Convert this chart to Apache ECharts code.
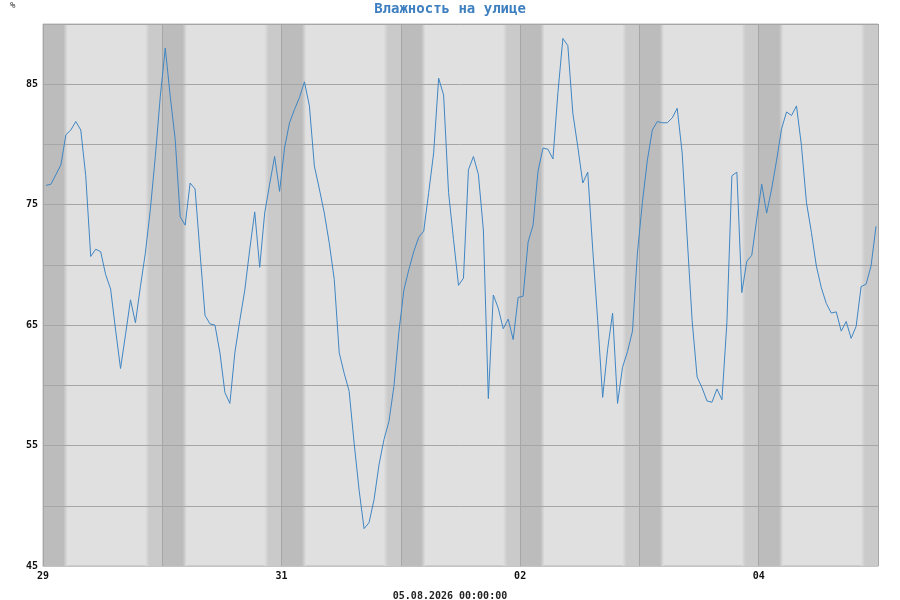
<!DOCTYPE html>
<html>
<head>
<meta charset="utf-8">
<script src="https://cdn.jsdelivr.net/npm/echarts@6/dist/echarts.min.js"></script>
<style>html,body{margin:0;padding:0;background:#fff;}#c{width:900px;height:600px;}</style>
</head>
<body>
<div id="c"></div>
<script>
// Hourly humidity readings, first reading at 29.07 00:35, one per hour
const dayLabels = ['29', '30', '31', '01', '02', '03', '04', '05'];
const startOffsetHours = 0.6;
const humidity = [
  // 29
  76.6, 76.7, 77.5, 78.3, 80.8, 81.2, 81.9, 81.2, 77.4, 70.7, 71.3, 71.1,
  69.2, 68.0, 64.6, 61.4, 64.2, 67.1, 65.2, 68.2, 71.0, 74.6, 79.0, 84.0,
  // 30
  88.0, 84.0, 80.4, 74.0, 73.3, 76.8, 76.3, 71.0, 65.8, 65.1, 65.0, 62.7,
  59.4, 58.5, 62.7, 65.4, 67.9, 71.3, 74.4, 69.8, 74.3, 76.7, 79.0, 76.1,
  // 31
  79.7, 81.8, 82.9, 83.9, 85.2, 83.2, 78.2, 76.3, 74.3, 71.8, 68.8, 62.7,
  61.0, 59.5, 55.2, 51.3, 48.1, 48.6, 50.5, 53.4, 55.5, 57.0, 59.9, 64.4,
  // 01
  67.9, 69.6, 71.1, 72.3, 72.8, 76.0, 79.3, 85.5, 84.1, 76.0, 72.1, 68.3,
  68.9, 77.9, 79.0, 77.5, 72.9, 58.9, 67.5, 66.4, 64.7, 65.5, 63.8, 67.3,
  // 02
  67.4, 71.9, 73.3, 77.8, 79.7, 79.6, 78.8, 84.3, 88.8, 88.2, 82.6, 79.8,
  76.8, 77.7, 71.3, 65.4, 59.0, 63.0, 66.0, 58.5, 61.5, 62.8, 64.5, 71.0,
  // 03
  75.2, 78.7, 81.2, 81.9, 81.8, 81.8, 82.2, 83.0, 79.3, 72.3, 65.4, 60.7,
  59.8, 58.7, 58.6, 59.7, 58.8, 65.2, 77.4, 77.7, 67.7, 70.3, 70.8, 73.8,
  // 04
  76.7, 74.3, 76.3, 78.7, 81.3, 82.7, 82.4, 83.2, 79.9, 75.2, 72.7, 69.9,
  68.1, 66.8, 66.0, 66.1, 64.5, 65.3, 63.9, 64.9, 68.2, 68.4, 69.9, 73.2
];
const yTicks = [45, 55, 65, 75, 85];
const titleText = 'Влажность на улице';
const unitText = '%';
const footerText = '05.08.2026 00:00:00';

const totalHours = (dayLabels.length - 1) * 24;
const seriesData = humidity.map((v, i) => [i + startOffsetHours, v]);

// Night shading bands around each midnight
const bandBefore = 3.4, bandAfter = 4.9;
function mix(a, b, t) { t = Math.max(0, Math.min(1, t)); return Math.round(a + (b - a) * t); }
function colorAt(h) {
  if (h < -bandBefore + 0.8) return mix(222, 202, (h + bandBefore) / 0.8);
  if (h < 0) return 202;
  if (h < bandAfter - 0.8) return 188;
  return mix(188, 222, (h - (bandAfter - 0.8)) / 0.8);
}
function g(v) { return 'rgb(' + v + ',' + v + ',' + v + ')'; }
const bands = [];
for (let d = 0; d < dayLabels.length; d++) {
  const m = d * 24;
  const a = Math.max(0, m - bandBefore), b = Math.min(totalHours, m + bandAfter);
  if (b <= a) continue;
  const keys = [-bandBefore + 0.8, -0.0001, 0.0001, bandAfter - 0.8]
    .map(k => m + k).filter(x => x > a && x < b);
  const pts = [a].concat(keys).concat([b]);
  const stops = pts.map(x => ({ offset: (x - a) / (b - a), color: g(colorAt(x - m)) }));
  bands.push([{ xAxis: a, itemStyle: { color: { type: 'linear', x: 0, y: 0, x2: 1, y2: 0, colorStops: stops } } }, { xAxis: b }]);
}

const chart = echarts.init(document.getElementById('c'), null, { renderer: 'canvas' });
const mono = '"DejaVu Sans Mono", "Liberation Mono", monospace';
chart.setOption({
  animation: false,
  backgroundColor: '#ffffff',
  title: [
    { text: titleText, left: 'center', top: 2, padding: 0, textStyle: { fontFamily: mono, fontSize: 14, fontWeight: 'bold', color: '#3d7fbf' } },
    { text: unitText, left: 10, top: 1, padding: 0, textStyle: { fontFamily: mono, fontSize: 9, fontWeight: 'normal', color: '#333' } },
    { text: footerText, left: 'center', top: 591, padding: 0, textStyle: { fontFamily: mono, fontSize: 10, fontWeight: 'bold', color: '#222' } }
  ],
  grid: { left: 43, right: 22, top: 24, bottom: 34, show: true, backgroundColor: '#e0e0e0', borderColor: '#b8b8b8', borderWidth: 1 },
  xAxis: {
    type: 'value', min: 0, max: totalHours, interval: 24, z: 2,
    axisLine: { show: true, lineStyle: { color: '#c4c4c4' } },
    axisTick: { show: false },
    splitLine: { show: true, lineStyle: { color: '#a6a6a6', width: 1 } },
    axisLabel: {
      fontFamily: mono, fontSize: 10, fontWeight: 'bold', color: '#111', margin: 5,
      formatter: v => { const i = Math.round(v / 24); return (i % 2 === 0 && i < dayLabels.length - 1) ? dayLabels[i] : ''; }
    }
  },
  yAxis: {
    type: 'value', min: 45, max: 90, interval: 5, z: 2,
    axisLine: { show: false }, axisTick: { show: false },
    splitLine: { show: true, lineStyle: { color: '#a6a6a6', width: 1 } },
    axisLabel: {
      fontFamily: mono, fontSize: 10, fontWeight: 'bold', color: '#111', margin: 5,
      formatter: v => yTicks.indexOf(v) >= 0 ? String(v) : ''
    }
  },
  series: [
    {
      type: 'line', data: [], z: 1, silent: true,
      markArea: { silent: true, data: bands }
    },
    {
      type: 'line', data: seriesData, showSymbol: false, symbol: 'none',
      lineStyle: { color: '#3f86c4', width: 1 }, z: 3
    }
  ]
});
</script>
</body>
</html>
